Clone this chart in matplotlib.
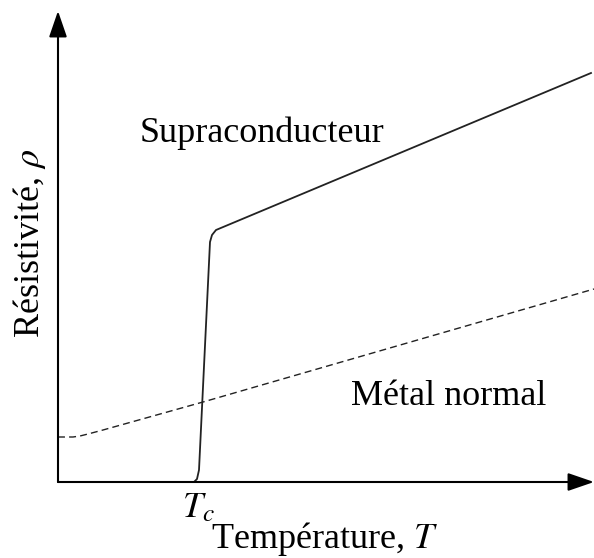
import matplotlib.pyplot as plt

# courbe du supraconducteur (unites arbitraires)
supra_T = [0.0, 1.36, 1.39, 1.41, 1.52, 1.54, 1.58, 5.33]
supra_rho = [0.0, 0.0, 0.03, 0.12, 2.40, 2.47, 2.52, 4.09]

# metal normal (tirets)
metal_T = [0.0, 0.15, 0.22, 0.30, 0.45, 1.45, 5.36]
metal_rho = [0.45, 0.45, 0.46, 0.48, 0.52, 0.80, 1.93]

W, H = 594, 558
fig = plt.figure(figsize=(W / 100, H / 100), dpi=100)
# axe: origine a (58, 482) px, haut a y=11, droite a x=594
ax = fig.add_axes([58 / W, (H - 482) / H, (594 - 58) / W, (482 - 11) / H])
ax.set_xlim(0, 5.36)
ax.set_ylim(0, 4.71)
ax.axis('off')

serif = ['Liberation Serif', 'DejaVu Serif']
fs = 26

ax.plot(supra_T, supra_rho, color='#222222', lw=1.3, solid_joinstyle='round')
ax.plot(metal_T, metal_rho, color='#222222', lw=1.0, dashes=(5, 3))

# fleches des axes
arrow = dict(arrowstyle='-|>,head_length=1.6,head_width=0.55', color='black', lw=1.5,
             shrinkA=0, shrinkB=0)
ax.annotate('', xy=(0, 4.71), xytext=(0, 0), arrowprops=arrow, annotation_clip=False)
ax.annotate('', xy=(5.36, 0), xytext=(0, 0), arrowprops=arrow, annotation_clip=False)

ax.text(2.04, 3.40, 'Supraconducteur', family=serif, fontsize=fs, ha='center', va='baseline')
ax.text(3.91, 0.77, 'Métal normal', family=serif, fontsize=fs, ha='center', va='baseline')
ax.text(1.40, -0.25, r'$T_c$', fontsize=fs, ha='center', va='center',
        math_fontfamily='stix', clip_on=False)
ax.text(2.67, -0.66, 'Température, $T$', family=serif, fontsize=fs, ha='center', va='baseline',
        math_fontfamily='stix', clip_on=False)
ax.text(-0.28, 2.39, 'Résistivité, $\\rho$', family=serif, fontsize=fs, ha='center', va='center',
        rotation=90, math_fontfamily='stix', clip_on=False)

fig.savefig('out.png', dpi=100)
